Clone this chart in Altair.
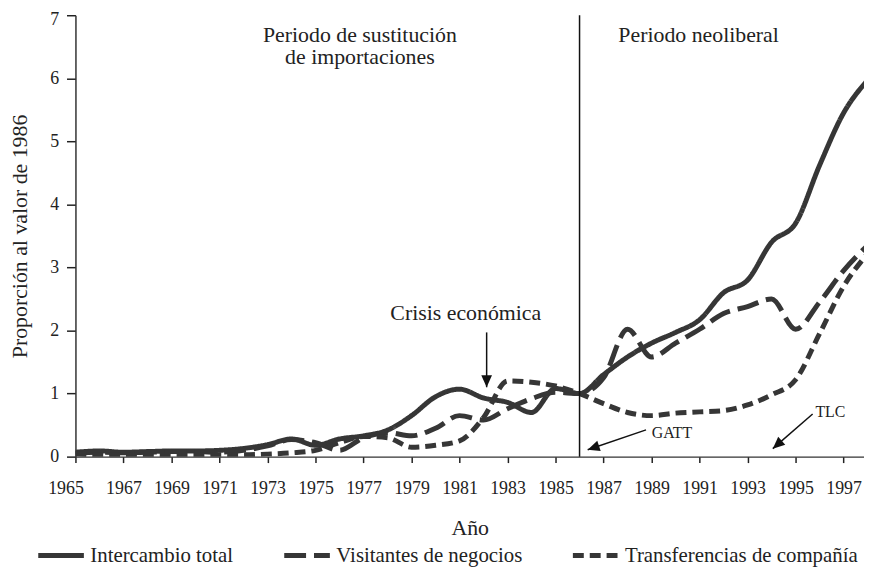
import altair as alt
import pandas as pd

# ---------------- data ----------------
years = list(range(1965, 1999))
series_names = ["Intercambio total", "Visitantes de negocios", "Transferencias de compañía"]

intercambio = [0.07, 0.09, 0.07, 0.08, 0.09, 0.09, 0.10, 0.13, 0.19, 0.28,
               0.18, 0.28, 0.33, 0.42, 0.65, 0.95, 1.07, 0.93, 0.86, 0.70,
               1.08, 1.00, 1.30, 1.58, 1.80, 1.97, 2.17, 2.60, 2.80, 3.40,
               3.70, 4.62, 5.45, 5.97]
visitantes = [0.05, 0.07, 0.06, 0.07, 0.08, 0.08, 0.07, 0.10, 0.17, 0.27,
              0.22, 0.10, 0.30, 0.38, 0.33, 0.45, 0.65, 0.58, 0.76, 0.92,
              1.02, 1.00, 1.25, 2.02, 1.58, 1.80, 2.02, 2.27, 2.38, 2.50,
              2.02, 2.45, 2.95, 3.35]
transferencias = [0.04, 0.03, 0.03, 0.02, 0.02, 0.02, 0.03, 0.03, 0.04, 0.06,
                  0.10, 0.22, 0.32, 0.30, 0.15, 0.18, 0.25, 0.62, 1.20, 1.18,
                  1.12, 1.00, 0.84, 0.70, 0.65, 0.69, 0.71, 0.73, 0.82, 0.98,
                  1.22, 1.95, 2.70, 3.22]

tick_years = list(range(1965, 1999, 2))
y_ticks = [0, 1, 2, 3, 4, 5, 6, 7]

# annotations (data coordinates)
big_text = ["Periodo de sustitución\nde importaciones", "Periodo neoliberal", "Crisis económica"]
big_text_x = [1976.85, 1990.96, 1981.26]
big_text_y = [6.69, 6.69, 2.27]
small_text = ["GATT", "TLC"]
small_text_x = [1989.85, 1996.45]
small_text_y = [0.38, 0.71]
arrow_x1 = [1982.13, 1988.77, 1995.71]
arrow_y1 = [1.97, 0.425, 0.676]
arrow_x2 = [1982.13, 1986.34, 1994.05]
arrow_y2 = [1.10, 0.11, 0.126]
arrow_angle = [180, 251.3, 228.8]
divider_year = [1986]

INK = "#363636"
FONT = "Liberation Serif"

rows = []
for name, vals in zip(series_names, [intercambio, visitantes, transferencias]):
    for yr, v in zip(years, vals):
        rows.append({"Año": yr, "valor": v, "serie": name})
df = pd.DataFrame(rows)

x_scale = alt.Scale(domain=[1965, 1997.85], nice=False, zero=False)
y_scale = alt.Scale(domain=[0, 7], nice=False)

lines = alt.Chart(df).mark_line(
    strokeWidth=5, color=INK, interpolate="monotone", clip=True
).encode(
    x=alt.X("Año:Q", scale=x_scale,
            axis=alt.Axis(values=tick_years, format="d", title="Año",
                          tickSize=6, labelPadding=17, titlePadding=21,
                          labelOverlap=False, labelFlush=False,
                          labelOffset=alt.expr("datum.value == 1965 ? -10 : 0"))),
    y=alt.Y("valor:Q", scale=y_scale,
            axis=alt.Axis(values=y_ticks, format="d", title="Proporción al valor de 1986",
                          tickSize=9, labelPadding=8, titlePadding=18,
                          labelOverlap=False, labelFlush=False,
                          labelOffset=alt.expr("datum.value == 7 ? 4 : 0"))),
    strokeDash=alt.StrokeDash(
        "serie:N", sort=series_names,
        scale=alt.Scale(domain=series_names, range=[[1, 0], [22, 8], [11, 6]]),
        legend=alt.Legend(title=None, orient="none", direction="horizontal",
                          legendX=-40, legendY=519, symbolType="stroke",
                          symbolSize=2116, symbolStrokeWidth=5,
                          symbolStrokeColor=INK, labelFont=FONT,
                          labelFontSize=21, labelColor="#222", labelOffset=4,
                          columnPadding=40, labelLimit=0, padding=0),
    ),
)

div_df = pd.DataFrame({"Año": divider_year, "valor": [0], "valor2": [7]})
divider = alt.Chart(div_df).mark_rule(color="#111", strokeWidth=1.5).encode(
    x="Año:Q", y="valor:Q", y2="valor2:Q"
)

bt_df = pd.DataFrame({"Año": big_text_x, "valor": big_text_y, "t": big_text})
big_labels = alt.Chart(bt_df).mark_text(
    font=FONT, fontSize=22, color="#222", lineBreak="\n", lineHeight=22,
    align="center", baseline="middle"
).encode(x="Año:Q", y="valor:Q", text="t:N")

st_df = pd.DataFrame({"Año": small_text_x, "valor": small_text_y, "t": small_text})
small_labels = alt.Chart(st_df).mark_text(
    font=FONT, fontSize=16, color="#222", align="center", baseline="middle"
).encode(x="Año:Q", y="valor:Q", text="t:N")

ar_df = pd.DataFrame({"Año": arrow_x1, "valor": arrow_y1,
                      "Año2": arrow_x2, "valor2": arrow_y2, "ang": arrow_angle})
arrow_lines = alt.Chart(ar_df).mark_rule(color="#111", strokeWidth=1.5).encode(
    x="Año:Q", y="valor:Q", x2="Año2:Q", y2="valor2:Q"
)
arrow_heads = alt.Chart(ar_df).mark_point(
    shape="M0,0L-0.45,1L0.45,1Z", filled=True, color="#111", opacity=1,
    size=576, strokeWidth=0
).encode(
    x="Año2:Q", y="valor2:Q", angle=alt.Angle("ang:Q", scale=None)
)

chart = alt.layer(
    lines, divider, arrow_lines, arrow_heads, big_labels, small_labels
).properties(
    width=795, height=445, autosize="none",
    padding={"left": 68, "top": 5, "right": 0, "bottom": 112},
).configure_view(stroke=None).configure_axis(
    labelFont=FONT, labelFontSize=18, labelColor="#222",
    titleFont=FONT, titleFontSize=22, titleFontWeight="normal", titleColor="#222",
    grid=False, domainColor="#333", domainWidth=1.5,
    tickColor="#222", tickWidth=1.5,
)

chart.save("out.html", embed_options={"renderer": "svg", "actions": False})
